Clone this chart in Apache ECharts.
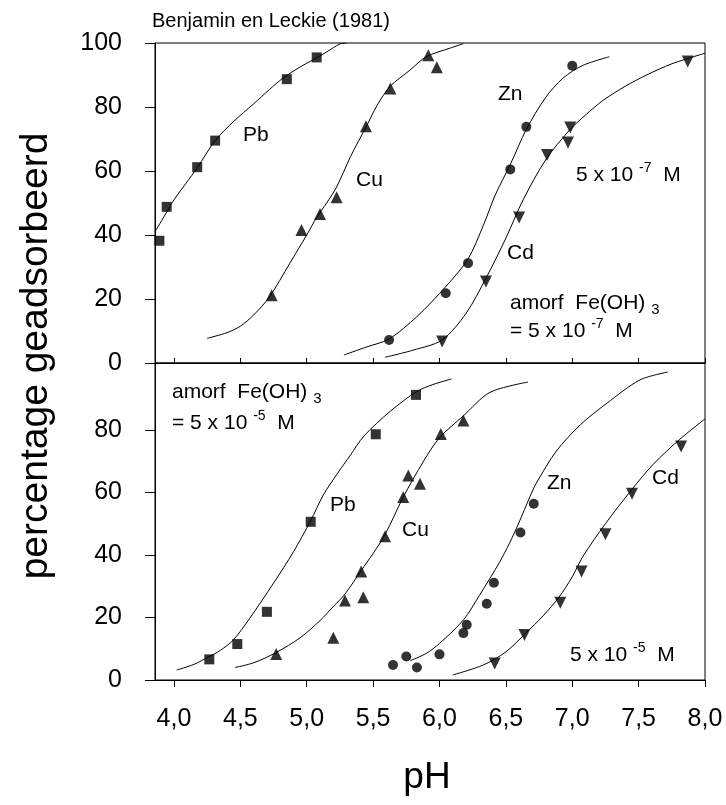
<!DOCTYPE html>
<html><head><meta charset="utf-8">
<script src="https://cdn.jsdelivr.net/npm/echarts@6/dist/echarts.min.js"></script>
<style>html,body{margin:0;padding:0;background:#fff}#c{width:726px;height:805px}</style>
</head><body><div id="c"></div>
<script>
const xTicks = [4.0, 4.5, 5.0, 5.5, 6.0, 6.5, 7.0, 7.5, 8.0];
const yTicksTop = [0, 20, 40, 60, 80, 100];
const yTicksBottom = [0, 20, 40, 60, 80];

// Top panel: amorf Fe(OH)3 = 5 x 10^-7 M
const topPbCurve = [[3.857,41],[3.95,47.5],[4.0,51],[4.175,61],[4.31,69.5],[4.45,75.5],[4.6,81],[4.72,85.5],[4.82,89],[4.95,92.5],[5.05,94.8],[5.15,97.2],[5.25,99.7],[5.3,100]];
const topPbPts = [[3.89,38.2],[3.945,48.8],[4.175,61.2],[4.31,69.5],[4.85,88.7],[5.075,95.5]];
const topCuCurve = [[4.25,7.7],[4.4,9.5],[4.5,11.5],[4.6,15],[4.72,20.7],[4.87,31],[5.0,40],[5.075,45.5],[5.15,50],[5.225,55],[5.33,64.5],[5.446,73.7],[5.53,80.5],[5.627,86.4],[5.78,91.6],[5.9,95.7],[6.08,98.4],[6.18,99.8]];
const topCuPts = [[4.736,21.2],[4.96,41.6],[5.10,46.6],[5.225,51.8],[5.446,74],[5.63,85.8],[5.916,96.2],[5.98,92.4]];
const topZnCurve = [[5.28,2.5],[5.45,5],[5.62,7.5],[5.83,14.5],[6.05,24],[6.215,32.5],[6.33,43],[6.42,52.5],[6.533,62],[6.654,73],[6.8,83],[6.93,89],[7.08,93],[7.28,95.7]];
const topZnPts = [[5.62,7.2],[6.047,21.8],[6.215,31.2],[6.533,60.5],[6.654,73.8],[7.0,92.9]];
const topCdCurve = [[5.59,1.8],[5.8,4],[6.02,7.2],[6.2,15.5],[6.35,26.5],[6.5,39],[6.63,51],[6.8,63.5],[6.98,72.8],[7.1,77.5],[7.23,82],[7.4,86.5],[7.56,90],[7.75,93.5],[8.0,96.8]];
const topCdPts = [[6.02,6.7],[6.35,25.5],[6.60,45.5],[6.81,65],[6.968,68.9],[6.985,73.6],[7.87,94.2]];

// Bottom panel: amorf Fe(OH)3 = 5 x 10^-5 M
const botPbCurve = [[4.02,3.2],[4.15,5],[4.266,7.5],[4.35,9.5],[4.447,12.8],[4.57,19.7],[4.75,31],[4.9,41],[5.03,51],[5.125,59.2],[5.23,66],[5.33,72],[5.43,78],[5.63,86],[5.83,92.3],[5.95,94.5],[6.09,96.3]];
const botPbPts = [[4.266,6.6],[4.477,11.5],[4.70,21.8],[5.03,50.6],[5.52,78.6],[5.823,91.2]];
const botCuCurve = [[4.46,4],[4.6,5.5],[4.77,8.8],[4.95,13.5],[5.1,19],[5.2,23.5],[5.288,27.5],[5.41,35],[5.5,40.5],[5.59,46.5],[5.727,58.5],[5.88,70],[6.0,77.5],[6.18,84.5],[6.38,92],[6.667,95.3]];
const botCuPts = [[4.77,8.3],[5.2,13.5],[5.288,25.4],[5.41,34.7],[5.426,26.5],[5.59,46],[5.727,58.5],[5.765,65.4],[5.853,62.8],[6.01,78.7],[6.18,83]];
const botZnCurve = [[5.78,6.2],[5.9,8.5],[6.0,11.7],[6.18,19.2],[6.3,27],[6.45,37.5],[6.53,44],[6.6,50.5],[6.68,58.5],[6.73,63],[6.88,73.2],[7.06,81.6],[7.26,88.5],[7.51,96],[7.72,98.5]];
const botZnPts = [[5.65,4.8],[5.75,7.5],[5.83,4],[6.0,8.2],[6.18,15],[6.205,17.7],[6.356,24.4],[6.41,31.1],[6.61,47.2],[6.71,56.4]];
const botCdCurve = [[6.1,1.6],[6.33,4.8],[6.5,9],[6.65,15],[6.78,20.5],[6.9,26.5],[7.0,33],[7.08,39.5],[7.25,50],[7.45,61],[7.61,69],[7.81,77],[8.0,83.5]];
const botCdPts = [[6.416,5.3],[6.64,14.4],[6.91,24.7],[7.07,34.7],[7.25,46.6],[7.45,59.6],[7.82,74.7]];

const FONT = '"Liberation Sans", Arial, Helvetica, sans-serif';
const chart = echarts.init(document.getElementById('c'), null, {renderer: 'canvas'});

function curve(data, xi, yi) {
  return {type: 'line', data: data, xAxisIndex: xi, yAxisIndex: yi, symbol: 'none', smooth: 0.3,
    lineStyle: {color: '#000', width: 1}, silent: true, z: 2};
}
function pts(data, xi, yi, symbol, size, rot) {
  return {type: 'scatter', data: data, xAxisIndex: xi, yAxisIndex: yi, symbol: symbol, symbolSize: size,
    symbolRotate: rot || 0, itemStyle: {color: '#000'}, silent: true, z: 3};
}
const fmtX = v => v.toFixed(1).replace('.', ',');

const rich = {
  s: {fontSize: 14, lineHeight: 13, verticalAlign: 'top', fontFamily: FONT, fill: '#000'},
  d: {fontSize: 15, lineHeight: 18, verticalAlign: 'bottom', fontFamily: FONT, fill: '#000'}
};
function label(txt, x, y, size) {
  return {type: 'text', x: x, y: y, z: 10, style: {text: txt, fontSize: size || 21, lineHeight: 28,
    fontFamily: FONT, fill: '#000', verticalAlign: 'middle', textAlign: 'left', rich: rich}};
}

const option = {
  animation: false,
  backgroundColor: '#fff',
  grid: [
    {left: 155, top: 43, width: 550, height: 320, show: true, borderColor: '#000', borderWidth: 1},
    {left: 155, top: 363, width: 550, height: 317, show: true, borderColor: '#000', borderWidth: 1}
  ],
  xAxis: [
    {gridIndex: 0, type: 'value', min: 3.857, max: 8.0, position: 'bottom',
      axisLine: {show: true, onZero: false, lineStyle: {color: '#000', width: 1}},
      axisTick: {show: true, inside: true, length: 5, customValues: xTicks, lineStyle: {color: '#000'}},
      axisLabel: {show: false}, splitLine: {show: false}},
    {gridIndex: 1, type: 'value', min: 3.857, max: 8.0, position: 'bottom',
      axisLine: {show: true, onZero: false, lineStyle: {color: '#000', width: 1}},
      axisTick: {show: true, inside: false, length: 7, customValues: xTicks, lineStyle: {color: '#000'}},
      axisLabel: {show: true, customValues: xTicks, formatter: fmtX, fontSize: 25, fontFamily: FONT, color: '#000', margin: 27},
      splitLine: {show: false}},
    {gridIndex: 1, type: 'value', min: 3.857, max: 8.0, position: 'top',
      axisLine: {show: false},
      axisTick: {show: true, inside: true, length: 4, customValues: xTicks, lineStyle: {color: '#000'}},
      axisLabel: {show: false}, splitLine: {show: false}}
  ],
  yAxis: [
    {gridIndex: 0, type: 'value', min: 0, max: 100,
      axisLine: {show: true, onZero: false, lineStyle: {color: '#000', width: 1}},
      axisTick: {show: true, inside: false, length: 10, customValues: yTicksTop, lineStyle: {color: '#000'}},
      axisLabel: {show: true, customValues: yTicksTop, fontSize: 25, fontFamily: FONT, color: '#000', margin: 33},
      splitLine: {show: false}},
    {gridIndex: 1, type: 'value', min: 0, max: 101.4,
      axisLine: {show: true, onZero: false, lineStyle: {color: '#000', width: 1}},
      axisTick: {show: true, inside: false, length: 10, customValues: yTicksBottom, lineStyle: {color: '#000'}},
      axisLabel: {show: true, customValues: yTicksBottom, fontSize: 25, fontFamily: FONT, color: '#000', margin: 33},
      splitLine: {show: false}}
  ],
  series: [
    curve(topPbCurve, 0, 0), curve(topCuCurve, 0, 0), curve(topZnCurve, 0, 0), curve(topCdCurve, 0, 0),
    pts(topPbPts, 0, 0, 'rect', 10), pts(topCuPts, 0, 0, 'triangle', 12), pts(topZnPts, 0, 0, 'circle', 10), pts(topCdPts, 0, 0, 'triangle', 12, 180),
    curve(botPbCurve, 1, 1), curve(botCuCurve, 1, 1), curve(botZnCurve, 1, 1), curve(botCdCurve, 1, 1),
    pts(botPbPts, 1, 1, 'rect', 10), pts(botCuPts, 1, 1, 'triangle', 12), pts(botZnPts, 1, 1, 'circle', 10), pts(botCdPts, 1, 1, 'triangle', 12, 180)
  ],
  graphic: [
    {type: 'text', x: 152, y: 21, style: {text: 'Benjamin en Leckie (1981)', fontSize: 20, fontFamily: FONT, fill: '#000', verticalAlign: 'middle'}},
    {type: 'text', x: 36, y: 356, rotation: Math.PI / 2, style: {text: 'percentage geadsorbeerd', fontSize: 39, fontFamily: FONT, fill: '#000', textAlign: 'center', verticalAlign: 'middle'}},
    {type: 'text', x: 427, y: 778, style: {text: 'pH', fontSize: 37, fontFamily: FONT, fill: '#000', textAlign: 'center', verticalAlign: 'middle'}},
    label('Pb', 243, 135), label('Cu', 356, 180), label('Zn', 498, 94),
    label('5 x 10 {s|-7}  M', 576, 175), label('Cd', 507, 253),
    label('amorf  Fe(OH) {d|3}', 510, 303), label('= 5 x 10 {s|-7}  M', 510, 331),
    label('amorf  Fe(OH) {d|3}', 172, 392), label('= 5 x 10 {s|-5}  M', 172, 423),
    label('Pb', 330, 505), label('Cu', 402, 530), label('Zn', 547, 483), label('Cd', 652, 478),
    label('5 x 10 {s|-5}  M', 570, 655)
  ]
};
chart.setOption(option);
</script></body></html>
